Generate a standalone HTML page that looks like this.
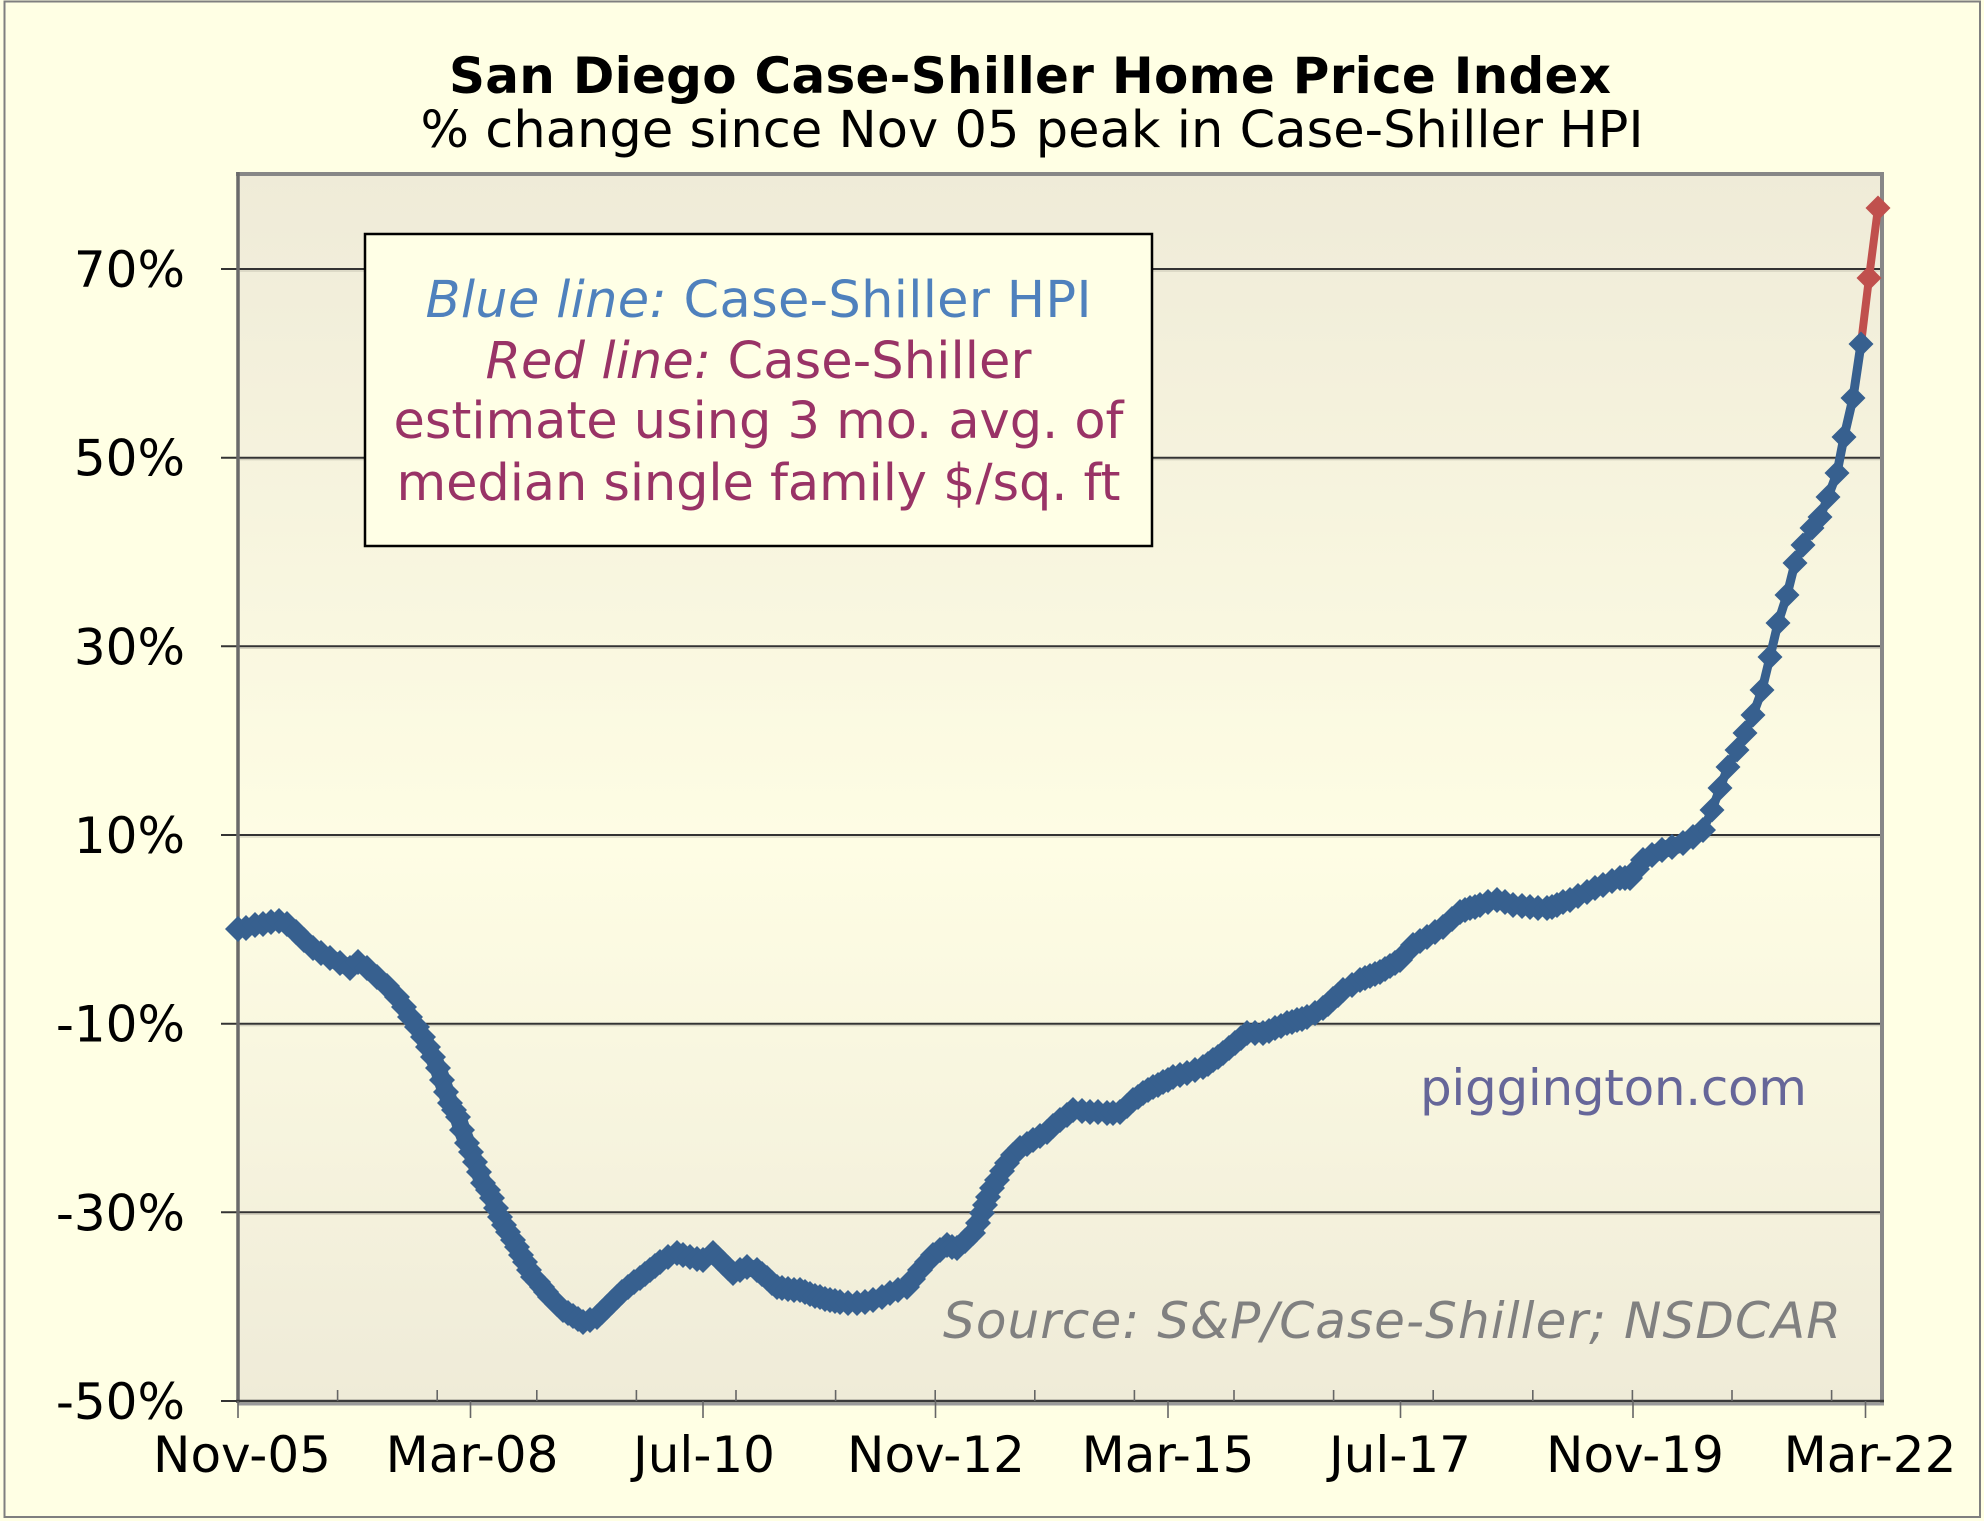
<!DOCTYPE html>
<html>
<head>
<meta charset="utf-8">
<style>
html,body{margin:0;padding:0;background:#FFFFE4;}
svg{display:block;}
text{font-family:"DejaVu Sans",Verdana,"Liberation Sans",sans-serif;}
</style>
</head>
<body>
<svg width="1984" height="1521" viewBox="0 0 1984 1521" xmlns="http://www.w3.org/2000/svg">
<defs>
<linearGradient id="pg" x1="0" y1="0" x2="0" y2="1">
<stop offset="0" stop-color="#EFEBD8"/>
<stop offset="0.55" stop-color="#FEFDE4"/>
<stop offset="1" stop-color="#EFEBD8"/>
</linearGradient>
<marker id="db" viewBox="0 0 24 24" markerWidth="26" markerHeight="26" refX="12" refY="12" markerUnits="userSpaceOnUse">
<path d="M12 0 L24 12 L12 24 L0 12 Z" fill="#37608F"/>
</marker>
<marker id="db2" viewBox="0 0 24 24" markerWidth="25" markerHeight="25" refX="12" refY="12" markerUnits="userSpaceOnUse">
<path d="M12 0 L24 12 L12 24 L0 12 Z" fill="#37608F"/>
</marker>
<marker id="dr" viewBox="0 0 24 24" markerWidth="25" markerHeight="25" refX="12" refY="12" markerUnits="userSpaceOnUse">
<path d="M12 0 L24 12 L12 24 L0 12 Z" fill="#C0504D"/>
</marker>
</defs>

<rect x="0" y="0" width="1984" height="1521" fill="#FFFFE4"/>
<rect x="4.5" y="1.5" width="1975.5" height="1515.5" fill="none" stroke="#7F7F7F" stroke-width="2"/>

<text x="1030" y="93" font-size="50" font-weight="bold" text-anchor="middle" fill="#000" textLength="1162" lengthAdjust="spacing">San Diego Case-Shiller Home Price Index</text>
<text x="1032" y="147" font-size="51" text-anchor="middle" fill="#000" textLength="1223" lengthAdjust="spacing">% change since Nov 05 peak in Case-Shiller HPI</text>

<rect x="238" y="174" width="1644" height="1227" fill="url(#pg)"/>

<g stroke="#333" stroke-width="2">
<line x1="221" y1="269" x2="1880" y2="269"/>
<line x1="221" y1="457.7" x2="1880" y2="457.7"/>
<line x1="221" y1="646.3" x2="1880" y2="646.3"/>
<line x1="221" y1="835" x2="1880" y2="835"/>
<line x1="221" y1="1023.7" x2="1880" y2="1023.7"/>
<line x1="221" y1="1212.3" x2="1880" y2="1212.3"/>
<line x1="221" y1="1401" x2="238" y2="1401"/>
</g>
<g stroke="#C9C6B4" stroke-width="1">
<line x1="240" y1="271" x2="1880" y2="271"/>
<line x1="240" y1="459.7" x2="1880" y2="459.7"/>
<line x1="240" y1="648.3" x2="1880" y2="648.3"/>
<line x1="240" y1="837" x2="1880" y2="837"/>
<line x1="240" y1="1025.7" x2="1880" y2="1025.7"/>
<line x1="240" y1="1214.3" x2="1880" y2="1214.3"/>
</g>

<line x1="236" y1="174" x2="1884" y2="174" stroke="#878787" stroke-width="4"/>
<line x1="1882" y1="172" x2="1882" y2="1403" stroke="#878787" stroke-width="4"/>
<line x1="238" y1="172" x2="238" y2="1403" stroke="#6A6A6A" stroke-width="3.5"/>
<line x1="238" y1="1404" x2="1884" y2="1404" stroke="#9A9A9A" stroke-width="3"/>
<line x1="236" y1="1401" x2="1884" y2="1401" stroke="#383838" stroke-width="2.5"/>

<g stroke="#666" stroke-width="1.6">
<line x1="337.6" y1="1390" x2="337.6" y2="1401"/>
<line x1="437.2" y1="1390" x2="437.2" y2="1401"/>
<line x1="536.8" y1="1390" x2="536.8" y2="1401"/>
<line x1="636.4" y1="1390" x2="636.4" y2="1401"/>
<line x1="736" y1="1390" x2="736" y2="1401"/>
<line x1="835.6" y1="1390" x2="835.6" y2="1401"/>
<line x1="935.2" y1="1390" x2="935.2" y2="1401"/>
<line x1="1034.8" y1="1390" x2="1034.8" y2="1401"/>
<line x1="1134.4" y1="1390" x2="1134.4" y2="1401"/>
<line x1="1234" y1="1390" x2="1234" y2="1401"/>
<line x1="1333.6" y1="1390" x2="1333.6" y2="1401"/>
<line x1="1433.2" y1="1390" x2="1433.2" y2="1401"/>
<line x1="1532.8" y1="1390" x2="1532.8" y2="1401"/>
<line x1="1632.4" y1="1390" x2="1632.4" y2="1401"/>
<line x1="1732" y1="1390" x2="1732" y2="1401"/>
<line x1="1831.6" y1="1390" x2="1831.6" y2="1401"/>
</g>
<g stroke="#666" stroke-width="1.6">
<line x1="238" y1="1401" x2="238" y2="1418"/>
<line x1="470.5" y1="1401" x2="470.5" y2="1418"/>
<line x1="703" y1="1401" x2="703" y2="1418"/>
<line x1="935.5" y1="1401" x2="935.5" y2="1418"/>
<line x1="1168" y1="1401" x2="1168" y2="1418"/>
<line x1="1400.5" y1="1401" x2="1400.5" y2="1418"/>
<line x1="1633" y1="1401" x2="1633" y2="1418"/>
<line x1="1865.5" y1="1401" x2="1865.5" y2="1418"/>
</g>

<g font-size="50" fill="#000" text-anchor="end">
<text x="185" y="287">70%</text>
<text x="185" y="475.7">50%</text>
<text x="185" y="664.3">30%</text>
<text x="185" y="853">10%</text>
<text x="185" y="1041.7">-10%</text>
<text x="185" y="1230.3">-30%</text>
<text x="185" y="1419">-50%</text>
</g>

<g font-size="50" fill="#000" text-anchor="middle">
<text x="242" y="1472">Nov-05</text>
<text x="472" y="1472">Mar-08</text>
<text x="704" y="1472">Jul-10</text>
<text x="936" y="1472">Nov-12</text>
<text x="1168" y="1472">Mar-15</text>
<text x="1400" y="1472">Jul-17</text>
<text x="1635" y="1472">Nov-19</text>
<text x="1870" y="1472">Mar-22</text>
</g>

<rect x="365" y="234" width="787" height="312" fill="#FFFFE6" stroke="#000" stroke-width="2.5"/>
<text x="758.5" y="317" font-size="51" text-anchor="middle" fill="#4F81BD" textLength="666" lengthAdjust="spacing"><tspan font-style="italic">Blue line:</tspan> Case-Shiller HPI</text>
<text x="758.5" y="378" font-size="51" text-anchor="middle" fill="#993366" textLength="546" lengthAdjust="spacing"><tspan font-style="italic">Red line:</tspan> Case-Shiller</text>
<text x="758.5" y="438" font-size="51" text-anchor="middle" fill="#993366" textLength="730" lengthAdjust="spacing">estimate using 3 mo. avg. of</text>
<text x="758.5" y="500" font-size="51" text-anchor="middle" fill="#993366" textLength="724" lengthAdjust="spacing">median single family $/sq. ft</text>

<text x="1420" y="1105" font-size="50" fill="#666699" textLength="387" lengthAdjust="spacing">piggington.com</text>
<text x="943" y="1338" font-size="50" font-style="italic" fill="#808080" textLength="898" lengthAdjust="spacing">Source: S&amp;P/Case-Shiller; NSDCAR</text>

<polyline points="1861,344 1869,278 1878,208" fill="none" stroke="#C0504D" stroke-width="8" stroke-linejoin="round" marker-mid="url(#dr)" marker-end="url(#dr)"/>

<polyline fill="none" stroke="#37608F" stroke-width="17" stroke-linejoin="round" stroke-linecap="round"
marker-start="url(#db)" marker-mid="url(#db)" marker-end="url(#db)"
points="238,929 246,928 255,925 263,924 271,922 279,921 287,924 296,932 304,940 313,948 321,953 330,958 340,963 350,968 358,962 367,968 377,977 387,986 397,997 404,1007 410,1017 417,1027 423,1037 428,1047 433,1057 438,1068 442,1080 446,1092 450,1103 454,1110 458,1117 462,1130 467,1143 471,1152 475,1162 479,1172 483,1183 488,1190 492,1198 496,1208 500,1217 504,1225 508,1232 513,1240 517,1247 521,1255 525,1262 529,1270 533,1277 538,1282 542,1287 546,1292 550,1297 557,1304 563,1310 568,1313 573,1316 578,1319 583,1322 590,1320 597,1317 602,1312 607,1307 612,1302 617,1297 622,1292 628,1287 634,1282 640,1278 645,1274 650,1270 655,1266 660,1262 668,1257 677,1253 683,1255 690,1257 697,1259 703,1260 713,1253 718,1258 723,1263 728,1268 733,1273 740,1270 747,1267 757,1270 762,1274 767,1278 772,1283 777,1287 782,1288 788,1289 794,1290 800,1290 805,1292 810,1294 815,1296 820,1297 825,1299 830,1300 835,1301 840,1302 848,1303 857,1303 865,1302 873,1300 882,1297 890,1293 898,1290 907,1287 913,1279 920,1270 927,1262 933,1255 940,1250 947,1245 952,1247 957,1248 965,1241 973,1233 978,1223 982,1213 985,1205 988,1197 992,1188 997,1180 1002,1171 1007,1163 1013,1155 1020,1148 1027,1144 1033,1140 1040,1136 1047,1132 1053,1126 1060,1120 1067,1115 1073,1110 1082,1111 1090,1112 1098,1112 1107,1113 1113,1113 1120,1112 1127,1106 1133,1100 1138,1097 1143,1093 1148,1090 1153,1087 1158,1085 1163,1082 1168,1080 1173,1077 1180,1075 1187,1073 1195,1070 1203,1067 1208,1064 1213,1060 1218,1057 1223,1053 1229,1048 1235,1043 1241,1038 1247,1033 1255,1033 1263,1033 1269,1031 1275,1028 1281,1026 1287,1023 1292,1022 1297,1020 1302,1019 1307,1017 1315,1013 1323,1008 1328,1004 1333,999 1338,995 1343,990 1352,985 1360,980 1365,978 1370,976 1375,974 1380,972 1385,969 1390,966 1395,963 1400,960 1407,952 1413,945 1420,941 1427,937 1435,932 1443,927 1452,919 1460,912 1465,910 1470,908 1475,907 1480,905 1488,902 1497,900 1505,902 1513,905 1522,906 1530,907 1538,908 1547,908 1552,907 1557,905 1563,902 1570,900 1578,896 1587,892 1595,888 1603,885 1612,881 1620,878 1625,878 1630,878 1637,869 1643,860 1652,855 1662,850 1672,847 1683,843 1693,837 1703,830"/>

<polyline fill="none" stroke="#37608F" stroke-width="9" stroke-linejoin="round" stroke-linecap="round"
marker-mid="url(#db2)" marker-end="url(#db2)"
points="1703,830 1712,810 1720,788 1728,767 1737,750 1745,733 1753,715 1762,690 1770,657 1778,623 1787,595 1795,563 1803,545 1812,528 1820,517 1828,497 1837,473 1844,437 1853,398 1861,344"/>
</svg>
</body>
</html>
